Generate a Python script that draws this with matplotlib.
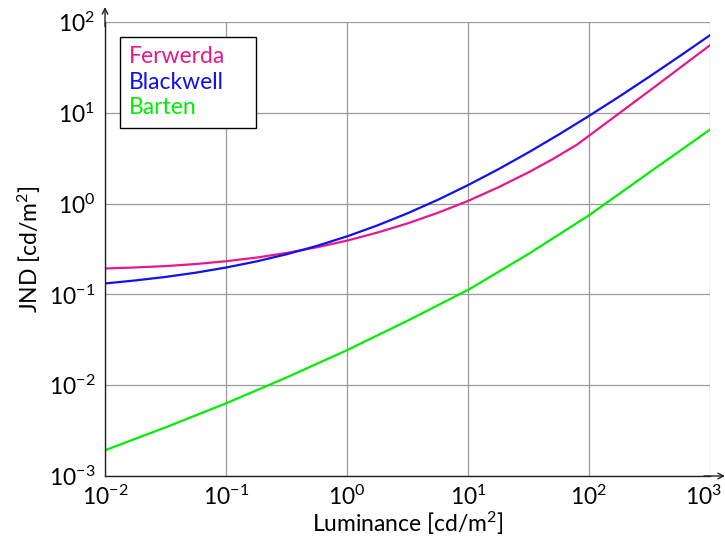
import matplotlib
matplotlib.use("Agg")
import matplotlib.pyplot as plt
import matplotlib.transforms as mtransforms
from matplotlib.ticker import FixedLocator, LogFormatterSciNotation, NullLocator

plt.rcParams['font.family'] = ['Lato', 'DejaVu Sans']
plt.rcParams['mathtext.default'] = 'regular'

# Data (luminance in cd/m^2, JND in cd/m^2)
ferwerda_x = [0.01, 0.01778, 0.03162, 0.05623, 0.1, 0.1778, 0.3162, 0.5623, 1.0,
              1.778, 3.162, 5.623, 10.0, 17.78, 31.62, 50.12, 79.43, 316.2, 1000.0]
ferwerda_y = [0.193, 0.198, 0.205, 0.216, 0.232, 0.254, 0.286, 0.330, 0.391,
              0.479, 0.605, 0.791, 1.07, 1.51, 2.21, 3.09, 4.45, 17.5, 55.5]

blackwell_x = [0.01, 0.01778, 0.03162, 0.05623, 0.1, 0.1778, 0.3162, 0.5623, 1.0,
               1.778, 3.162, 5.623, 10.0, 17.78, 31.62, 56.23, 100.0, 177.8, 316.2,
               562.3, 1000.0]
blackwell_y = [0.132, 0.1424, 0.1557, 0.1735, 0.1976, 0.2305, 0.2765, 0.3417, 0.4356,
               0.574, 0.782, 1.100, 1.597, 2.387, 3.663, 5.76, 9.24, 15.09, 25.05,
               42.1, 71.5]

barten_x = [0.01, 0.03162, 0.1, 0.3162, 1.0, 3.162, 10.0, 31.62, 100.0, 316.2, 1000.0]
barten_y = [0.00192, 0.00343, 0.00631, 0.01216, 0.0243, 0.0513, 0.112, 0.279, 0.743,
            2.21, 6.53]

x_ticks = [1e-2, 1e-1, 1e0, 1e1, 1e2, 1e3]
y_ticks = [1e-3, 1e-2, 1e-1, 1e0, 1e1, 1e2]

series_names = ["Ferwerda", "Blackwell", "Barten"]
series_colors = ["#E8178A", "#1010F0", "#00EE00"]

FS = 16.5

fig = plt.figure(figsize=(7.25, 5.42), dpi=100)
ax = fig.add_axes([105/725, 66/542, 605/725, 454/542])

for (xs, ys), name, col in zip([(ferwerda_x, ferwerda_y), (blackwell_x, blackwell_y),
                                (barten_x, barten_y)], series_names, series_colors):
    ax.plot(xs, ys, color=col, lw=1.6, label=name, solid_joinstyle='round')

ax.set_xscale('log')
ax.set_yscale('log')
ax.set_xlim(x_ticks[0], x_ticks[-1])
ax.set_ylim(y_ticks[0], y_ticks[-1])
ax.xaxis.set_major_locator(FixedLocator(x_ticks))
ax.yaxis.set_major_locator(FixedLocator(y_ticks))
ax.xaxis.set_minor_locator(NullLocator())
ax.yaxis.set_minor_locator(NullLocator())
ax.xaxis.set_major_formatter(LogFormatterSciNotation())
ax.yaxis.set_major_formatter(LogFormatterSciNotation())
ax.tick_params(axis='both', length=0, labelsize=FS, colors='black')
ax.tick_params(axis='x', pad=6)
ax.tick_params(axis='y', pad=7)

ax.grid(True, which='major', color='#9a9a9a', lw=0.9)
ax.set_axisbelow(True)

for s in ['top', 'right']:
    ax.spines[s].set_visible(False)
for s in ['left', 'bottom']:
    ax.spines[s].set_color('#222222')
    ax.spines[s].set_linewidth(1.0)

# axis arrows
ax.annotate('', xy=(1 + 15/605, 0), xytext=(0.99, 0), xycoords='axes fraction',
            arrowprops=dict(arrowstyle='->', lw=1.0, color='#222222', shrinkA=0, shrinkB=0),
            annotation_clip=False)
ax.annotate('', xy=(0, 1 + 15/454), xytext=(0, 0.99), xycoords='axes fraction',
            arrowprops=dict(arrowstyle='->', lw=1.0, color='#222222', shrinkA=0, shrinkB=0),
            annotation_clip=False)

ax.set_xlabel('Luminance [cd/m$^2$]', fontsize=FS, labelpad=1)
ax.set_ylabel('JND [cd/m$^2$]', fontsize=FS, labelpad=4)

leg = ax.legend(loc='upper left', bbox_to_anchor=(15/605, 1 - 15/454), borderaxespad=0,
                handlelength=0.55, handletextpad=0.4, markerfirst=False,
                labelcolor='linecolor', fontsize=FS,
                fancybox=False, framealpha=1, edgecolor='black', labelspacing=0.2,
                borderpad=0.4)
for h in leg.legend_handles:
    h.set_visible(False)
leg.get_frame().set_linewidth(1.0)
# left-align the entries (invisible handles sit after the text to widen the box)
try:
    for col in leg._legend_handle_box.get_children():
        col.align = 'left'
except Exception:
    pass

# keep the last x tick label inside the canvas
fig.canvas.draw()
for tick in ax.xaxis.get_major_ticks():
    if abs(tick.get_loc() - x_ticks[-1]) < 1e-6:
        tick.label1.set_transform(tick.label1.get_transform() +
                                  mtransforms.ScaledTranslation(-6/100, 0, fig.dpi_scale_trans))

fig.savefig('out.png', dpi=100)
